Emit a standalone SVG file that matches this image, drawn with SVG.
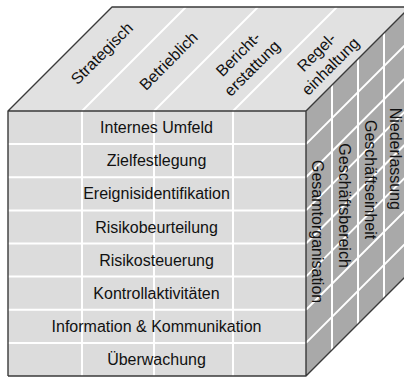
<svg xmlns="http://www.w3.org/2000/svg" width="404" height="377" viewBox="0 0 404 377">
<style>
.t{font-family:"Liberation Sans",Arial,sans-serif;font-size:16px;fill:#111}
.c{text-anchor:middle}
.w{stroke:#fff;stroke-width:2;fill:none}
.e{stroke:#3a3a3a;stroke-width:1.4;fill:none;stroke-linejoin:round}
</style>
<rect width="404" height="377" fill="#fff"/>
<g id="top-face">
<polygon points="8,111 112,7 410,7 306,111" fill="#e1e1e1"/>
<path class="w" d="M82,111 L186,7 M154,111 L258,7 M233,111 L337,7"/>
</g>
<g id="front-face">
<rect x="8" y="111" width="298" height="265" fill="#dcdcdc"/>
<path class="w" d="M82,111 V376 M154,111 V376 M233,111 V376 M8,144.1 H306 M8,177.3 H306 M8,210.4 H306 M8,243.5 H306 M8,276.6 H306 M8,309.8 H306 M8,342.9 H306"/>
</g>
<g id="right-face">
<polygon points="306,111 410,7 410,272 306,376" fill="#a9a9a9"/>
<path class="w" d="M332,85 V350 M358,59 V324 M384,33 V298 M306,144.1 L410,40.1 M306,177.3 L410,73.3 M306,210.4 L410,106.4 M306,243.5 L410,139.5 M306,276.6 L410,172.6 M306,309.8 L410,205.8 M306,342.9 L410,238.9"/>
</g>
<g id="edges">
<path class="e" d="M8,376 V111 L112,7 H410 M8,111 H306 L410,7 M306,111 V376 H8 M306,376 L410,272"/>
</g>
<g id="row-labels">
<text class="t c" x="156.5" y="133.1">Internes Umfeld</text>
<text class="t c" x="156.5" y="166.2">Zielfestlegung</text>
<text class="t c" x="156.5" y="199.3">Ereignisidentifikation</text>
<text class="t c" x="156.5" y="232.5">Risikobeurteilung</text>
<text class="t c" x="156.5" y="265.6">Risikosteuerung</text>
<text class="t c" x="156.5" y="298.7">Kontrollaktivitäten</text>
<text class="t c" x="156.5" y="331.8">Information &amp; Kommunikation</text>
<text class="t c" x="156.5" y="364.9">Überwachung</text>
</g>
<g id="column-labels">
<text class="t c" transform="translate(105.7,57.3) rotate(-45)">Strategisch</text>
<text class="t c" transform="translate(172.3,64.8) rotate(-45)">Betrieblich</text>
<text class="t c" transform="translate(242,58) rotate(-45)">Bericht-</text>
<text class="t c" transform="translate(256,72) rotate(-45)">erstattung</text>
<text class="t c" transform="translate(320.3,56.1) rotate(-45)">Regel-</text>
<text class="t c" transform="translate(334.3,70.1) rotate(-45)">einhaltung</text>
</g>
<g id="depth-labels">
<text class="t" transform="translate(312,160) rotate(90)">Gesamtorganisation</text>
<text class="t" transform="translate(338.5,143.3) rotate(90)">Geschäftsbereich</text>
<text class="t" transform="translate(364.5,120) rotate(90)">Geschäftseinheit</text>
<text class="t" transform="translate(390,107.7) rotate(90)">Niederlassung</text>
</g>
</svg>
